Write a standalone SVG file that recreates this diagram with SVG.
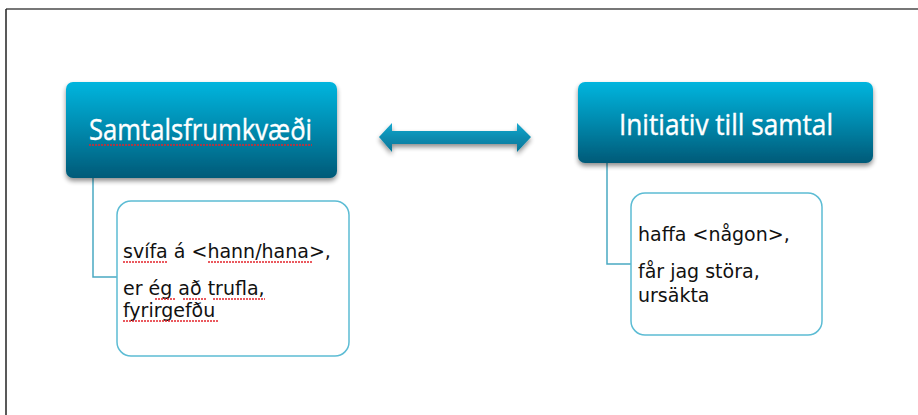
<svg xmlns="http://www.w3.org/2000/svg" width="918" height="415" viewBox="0 0 918 415">
<defs>
<linearGradient id="hg" x1="0" y1="0" x2="0" y2="1">
<stop offset="0" stop-color="#00b5de"/>
<stop offset="0.5" stop-color="#0289ad"/>
<stop offset="1" stop-color="#015a78"/>
</linearGradient>
<linearGradient id="ag" x1="0" y1="0" x2="0" y2="1">
<stop offset="0" stop-color="#17a9d0"/>
<stop offset="0.5" stop-color="#0a8cb0"/>
<stop offset="1" stop-color="#05779a"/>
</linearGradient>
<filter id="sh" x="-10%" y="-10%" width="120%" height="130%">
<feGaussianBlur in="SourceAlpha" stdDeviation="2.5"/>
<feOffset dx="0" dy="3" result="b"/>
<feComponentTransfer><feFuncA type="linear" slope="0.45"/></feComponentTransfer>
<feMerge><feMergeNode/><feMergeNode in="SourceGraphic"/></feMerge>
</filter>
</defs>
<style>
.head{fill:url(#hg);filter:url(#sh)}
.ht{font-family:"Open Sans","DejaVu Sans",sans-serif;font-size:30px;fill:#fff;stroke:#fff;stroke-width:0.4}
.sub{fill:#fff;stroke:#5cbcd4;stroke-width:1.5}
.st{font-family:"DejaVu Sans","Open Sans",sans-serif;font-size:19px;fill:#111}
.con{fill:none;stroke:#4aa9c2;stroke-width:1.5}
.sq{fill:none;stroke:#e4232b;stroke-width:1.6;stroke-dasharray:2 1}
</style>
<rect width="918" height="415" fill="#fff"/>
<line x1="6" y1="9" x2="918" y2="9" stroke="#777" stroke-width="2"/>
<line x1="6" y1="9" x2="6" y2="415" stroke="#222" stroke-width="1.5"/>
<g id="connectors">
<path class="con" d="M93 178 V277 H117"/>
<path class="con" d="M607 163 V264 H631"/>
<path d="M379 137 L392 123 V131 H517 V123 L531 137 L517 152 V144 H392 V152 Z" fill="url(#ag)" filter="url(#sh)"/>
</g>
<g id="n1">
<rect class="head" x="66" y="82" width="271" height="96" rx="7"/>
<text class="ht" x="89" y="140" textLength="223" lengthAdjust="spacingAndGlyphs">Samtalsfrumkvæði</text>
<path class="sq" d="M89 145 H312"/>
</g>
<g id="n2">
<rect class="head" x="578" y="82" width="295" height="81" rx="7"/>
<text class="ht" x="619" y="135" textLength="214" lengthAdjust="spacingAndGlyphs">Initiativ till samtal</text>
</g>
<g id="n3">
<rect class="sub" x="117" y="201" width="232" height="155" rx="14"/>
<text class="st" x="123" y="258">svífa á &lt;hann/hana&gt;,</text>
<text class="st" x="123" y="295">er ég að trufla,</text>
<text class="st" x="123" y="317">fyrirgefðu</text>
<path class="sq" d="M123 262 H168 M208 262 H313 M155 299 H176 M183 299 H206 M213 299 H265 M123 321 H218"/>
</g>
<g id="n4">
<rect class="sub" x="631" y="193" width="191" height="142" rx="14"/>
<text class="st" x="638" y="241">haffa &lt;någon&gt;,</text>
<text class="st" x="638" y="278">får jag störa,</text>
<text class="st" x="638" y="302">ursäkta</text>
</g>
</svg>
